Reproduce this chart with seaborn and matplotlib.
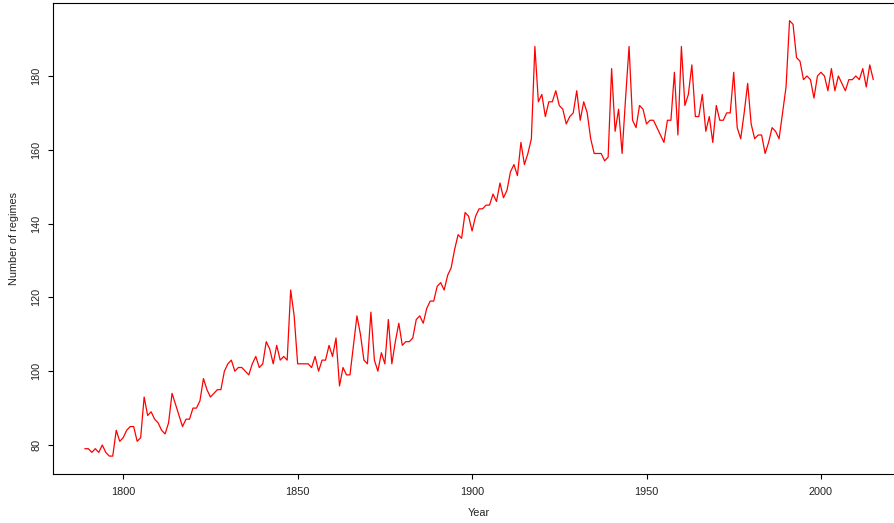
import numpy as np
import pandas as pd
import matplotlib
matplotlib.use("Agg")
import matplotlib.pyplot as plt
import seaborn as sns

start_year = 1789
regimes = [
    79, 79, 78, 79, 78, 80, 78, 77, 77, 84, 81,            # 1789-1799
    82, 84, 85, 85, 81, 82, 93, 88, 89, 87,                # 1800s
    86, 84, 83, 86, 94, 91, 88, 85, 87, 87,                # 1810s
    90, 90, 92, 98, 95, 93, 94, 95, 95, 100,               # 1820s
    102, 103, 100, 101, 101, 100, 99, 102, 104, 101,       # 1830s
    102, 108, 106, 102, 107, 103, 104, 103, 122, 115,      # 1840s
    102, 102, 102, 102, 101, 104, 100, 103, 103, 107,      # 1850s
    104, 109, 96, 101, 99, 99, 107, 115, 110, 103,         # 1860s
    102, 116, 103, 100, 105, 102, 114, 102, 108, 113,      # 1870s
    107, 108, 108, 109, 114, 115, 113, 117, 119, 119,      # 1880s
    123, 124, 122, 126, 128, 133, 137, 136, 143, 142,      # 1890s
    138, 142, 144, 144, 145, 145, 148, 146, 151, 147,      # 1900s
    149, 154, 156, 153, 162, 156, 159, 163, 188, 173,      # 1910s
    175, 169, 173, 173, 176, 172, 171, 167, 169, 170,      # 1920s
    176, 168, 173, 170, 163, 159, 159, 159, 157, 158,      # 1930s
    182, 165, 171, 159, 174, 188, 168, 166, 172, 171,      # 1940s
    167, 168, 168, 166, 164, 162, 168, 168, 181, 164,      # 1950s
    188, 172, 175, 183, 169, 169, 175, 165, 169, 162,      # 1960s
    172, 168, 168, 170, 170, 181, 166, 163, 170, 178,      # 1970s
    167, 163, 164, 164, 159, 162, 166, 165, 163, 170,      # 1980s
    177, 195, 194, 185, 184, 179, 180, 179, 174, 180,      # 1990s
    181, 180, 176, 182, 176, 180, 178, 176, 179, 179,      # 2000s
    180, 179, 182, 177, 183, 179,                          # 2010-2015
]
years = list(range(start_year, start_year + len(regimes)))
x_ticks = [1800, 1850, 1900, 1950, 2000]
y_ticks = [80, 100, 120, 140, 160, 180]

df = pd.DataFrame({"Year": years, "Number of regimes": regimes})

sns.set_theme(style="white")
plt.rcParams["font.family"] = ["Liberation Sans", "DejaVu Sans"]

W, H = 894, 523
fig = plt.figure(figsize=(W / 100, H / 100), dpi=100)
left, right, bottom, top = 53.3, 904.8, 473.5, 3.2
ax = fig.add_axes([left / W, 1 - bottom / H, (right - left) / W, (bottom - top) / H])

sns.lineplot(data=df, x="Year", y="Number of regimes", color="#ff0000",
             linewidth=0.9, ax=ax)

xr = max(years) - min(years)
yr = max(regimes) - min(regimes)
ax.set_xlim(min(years) - 0.04 * xr, max(years) + 0.04 * xr)
ax.set_ylim(min(regimes) - 0.04 * yr, max(regimes) + 0.04 * yr)

ax.set_xticks(x_ticks)
ax.set_xticklabels([str(t) for t in x_ticks])
ax.set_yticks(y_ticks)
ax.set_yticklabels([str(t) for t in y_ticks], rotation=90, va="center")

ax.tick_params(axis="both", which="major", direction="out", length=3.6,
               width=0.8, color="black", labelsize=7.8, labelcolor="#222222")
ax.tick_params(axis="x", pad=6.0)
ax.tick_params(axis="y", pad=5.0)
ax.xaxis.set_ticks_position("bottom")
ax.yaxis.set_ticks_position("left")

for s in ax.spines.values():
    s.set_color("black")
    s.set_linewidth(0.8)
    s.set_visible(True)

ax.set_xlabel("Year", fontsize=7.8, labelpad=8, color="#222222")
ax.set_ylabel("Number of regimes", fontsize=7.8, labelpad=9, color="#222222")
ax.grid(False)

fig.savefig("out.png", dpi=100)
